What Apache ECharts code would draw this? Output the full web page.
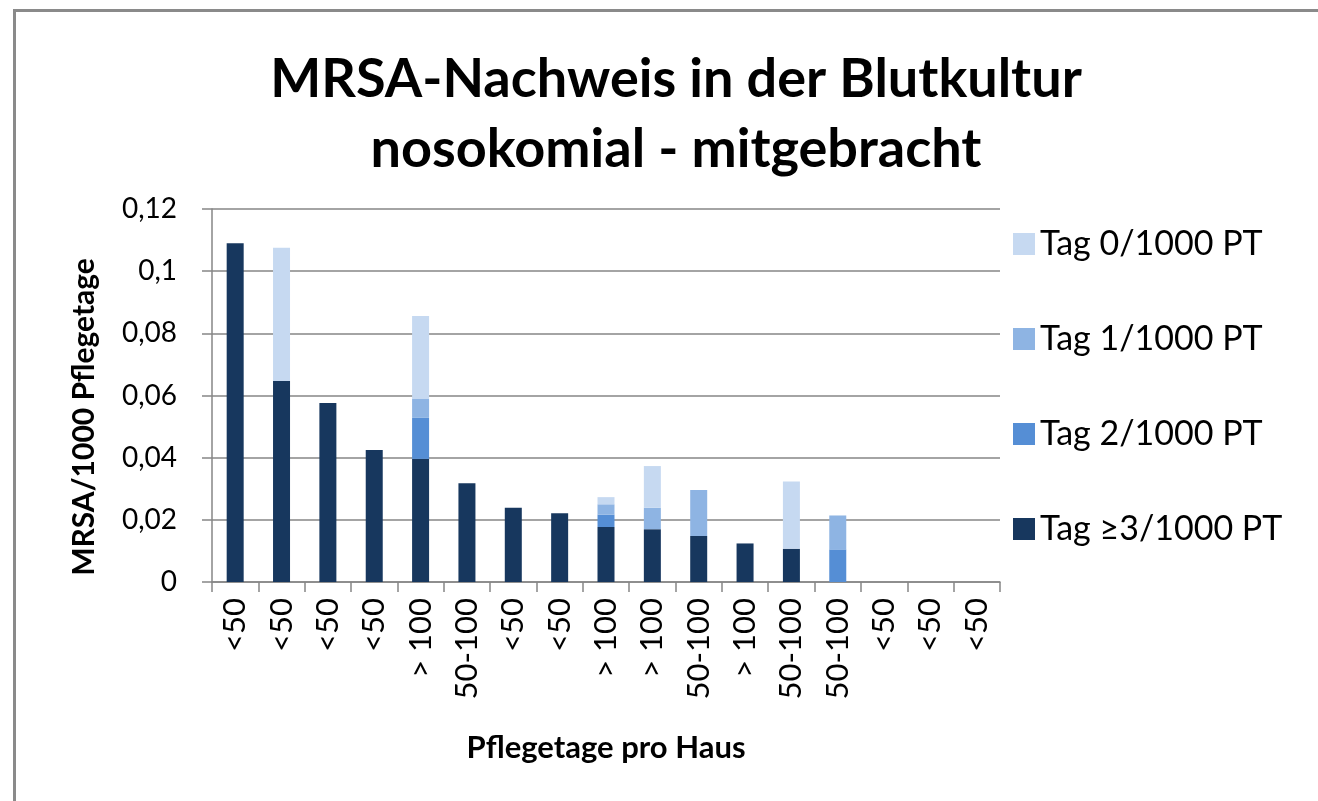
<!DOCTYPE html>
<html>
<head>
<meta charset="utf-8">
<script src="https://cdn.jsdelivr.net/npm/echarts@6/dist/echarts.min.js"></script>
<style>
html,body{margin:0;padding:0;background:#fff;}
#chart{width:1318px;height:801px;}
</style>
</head>
<body>
<div id="chart"></div>
<script>
var categories = ['<50','<50','<50','<50','> 100','50-100','<50','<50','> 100','> 100','50-100','> 100','50-100','50-100','<50','<50','<50'];
var tag3 = [0.109, 0.0647, 0.0576, 0.0425, 0.0396, 0.0318, 0.0239, 0.0221, 0.0177, 0.017, 0.0148, 0.0124, 0.0107, 0, 0, 0, 0];
var tag2 = [0, 0, 0, 0, 0.0132, 0, 0, 0, 0.004, 0, 0, 0, 0, 0.0105, 0, 0, 0];
var tag1 = [0, 0, 0, 0, 0.0061, 0, 0, 0, 0.0033, 0.0069, 0.0148, 0, 0, 0.0109, 0, 0, 0];
var tag0 = [0, 0.0428, 0, 0, 0.0267, 0, 0, 0, 0.0023, 0.0134, 0, 0, 0.0216, 0, 0, 0, 0];
var seriesNames = ['Tag ≥3/1000 PT', 'Tag 2/1000 PT', 'Tag 1/1000 PT', 'Tag 0/1000 PT'];
var colors = ['#17375E', '#558ED5', '#8EB4E3', '#C6D9F1'];
var titleLines = ['MRSA-Nachweis in der Blutkultur', 'nosokomial - mitgebracht'];
var yAxisTitle = 'MRSA/1000 Pflegetage';
var xAxisTitle = 'Pflegetage pro Haus';

var FONT = 'Lato';
var chart = echarts.init(document.getElementById('chart'), null, {renderer: 'canvas'});
var seriesData = [tag3, tag2, tag1, tag0];
var series = seriesData.map(function (d, i) {
  return {
    name: seriesNames[i],
    type: 'bar',
    stack: 'total',
    barWidth: 17,
    data: d,
    itemStyle: {color: colors[i]}
  };
});
chart.setOption({
  animation: false,
  backgroundColor: '#fff',
  title: {
    text: titleLines.join('\n'),
    left: 671, top: 40, textAlign: 'center',
    textStyle: {fontFamily: FONT, fontWeight: 'bold', fontSize: 54, lineHeight: 70, color: '#000', align: 'center'}
  },
  graphic: [{
    type: 'rect', left: 12, top: 8,
    shape: {width: 1400, height: 900},
    style: {fill: 'none', stroke: '#8a8a8a', lineWidth: 3}
  }],
  legend: {
    orient: 'vertical',
    left: 1008, top: 222,
    itemWidth: 22, itemHeight: 22, itemGap: 61,
    data: seriesNames.slice().reverse(),
    icon: 'rect',
    textStyle: {fontFamily: FONT, fontSize: 34, lineHeight: 34, color: '#000'}
  },
  grid: {left: 212, right: 318, top: 209, bottom: 219, containLabel: false},
  xAxis: {
    type: 'category',
    data: categories,
    name: xAxisTitle,
    nameLocation: 'middle',
    nameGap: 150,
    nameTextStyle: {fontFamily: FONT, fontWeight: 'bold', fontSize: 31, color: '#000'},
    axisLine: {lineStyle: {color: '#868686', width: 1.5}},
    axisTick: {show: true, length: 10, lineStyle: {color: '#868686', width: 1.5}},
    axisLabel: {rotate: 90, interval: 0, margin: 16, fontFamily: FONT, fontSize: 31, color: '#000'}
  },
  yAxis: {
    type: 'value',
    min: 0, max: 0.12, interval: 0.02,
    name: yAxisTitle,
    nameLocation: 'middle',
    nameGap: 113,
    nameRotate: 90,
    nameTextStyle: {fontFamily: FONT, fontWeight: 'bold', fontSize: 30, color: '#000', padding: [0, 43, 0, 0]},
    axisLine: {show: true, lineStyle: {color: '#868686', width: 1.5}},
    axisTick: {show: true, length: 10, lineStyle: {color: '#868686', width: 1.5}},
    axisLabel: {
      margin: 35, fontFamily: FONT, fontSize: 28, color: '#000',
      formatter: function (v) { return String(Math.round(v * 100) / 100).replace('.', ','); }
    },
    splitLine: {lineStyle: {color: '#868686', width: 1.5}}
  },
  series: series
});
</script>
</body>
</html>
